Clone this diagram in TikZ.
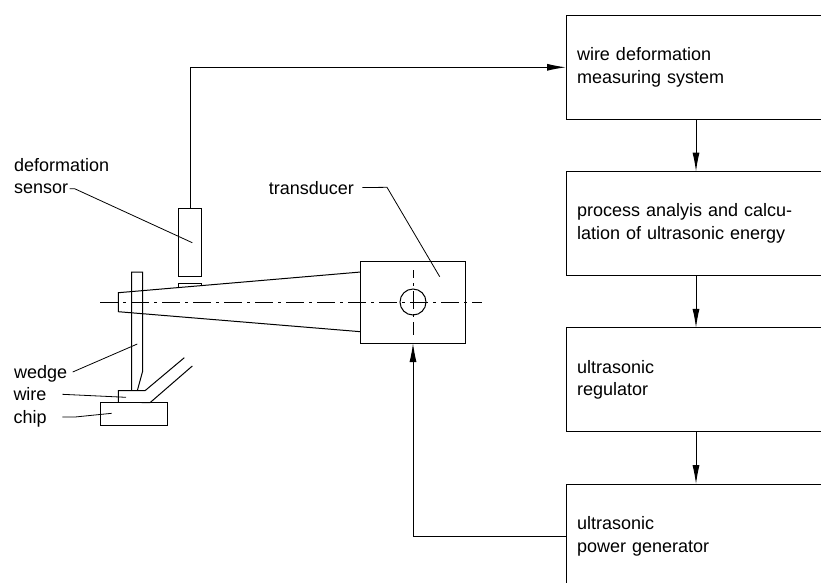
\documentclass[tikz,border=0pt]{standalone}
\usepackage{fontspec}
\setmainfont{Liberation Sans}
\usetikzlibrary{positioning,arrows.meta}
\tikzset{x=1pt, y=-1pt}
\tikzstyle{blk}=[draw, rectangle, minimum width=260pt, minimum height=104pt, text width=238pt, inner xsep=11pt, inner ysep=0pt, outer sep=0pt, align=left, font=\lab]
\tikzstyle{part}=[draw, inner sep=0pt, outer sep=0pt]
\tikzstyle{lbl}=[inner sep=0pt, anchor=base west, font=\lab]
\tikzstyle{arrow}=[-{Latex[length=19pt,width=7pt]}]
\tikzstyle{centre}=[line width=0.8pt, dash pattern=on 18pt off 5pt on 3pt off 5pt]
\tikzstyle{lead}=[line width=0.8pt]
\newcommand{\lab}{\fontsize{18}{22.6}\selectfont}
\begin{document}
\begin{tikzpicture}[line width=1pt]
        \useasboundingbox (0,0) rectangle (821,582);
        \clip (0,0) rectangle (821,582);
        % control chain
        \node (meas) [blk] at (696,67.3) {wire deformation\\measuring system};
        \node (proc) [blk, below=52.3pt of meas] {process analyis and calcu-\\lation of ultrasonic energy};
        \node (regu) [blk, below=52.3pt of proc] {ultrasonic\\regulator};
        \node (gen) [blk, below=52.3pt of regu] {ultrasonic\\power generator};
        \draw[arrow] (meas) -- (proc);
        \draw[arrow] (proc) -- (regu);
        \draw[arrow] (regu) -- (gen);
        % machine
        \node (trans) [part, minimum width=104.5pt, minimum height=82pt] at (413,302) {};
        \node (sens) [part, minimum width=22.5pt, minimum height=68pt] at (190,242) {};
        \node (hole) [part, circle, minimum size=26pt] at (413,302) {};
        \draw[arrow] (sens.north) |- (meas.west);
        \draw[arrow] (gen.west) -| (trans.south);
        \draw (178.5,287.6) |- (201,283) -- (201,285.7);
        \draw (360.7,272) -- (118.3,292.7) -- (118.3,311.7) -- (360.7,331.7);
        \draw[centre] (100,302) -- (482,302);
        \draw[centre, dash phase=10pt] (413,270) -- (413,335);
        % wedge, wire and chip
        \draw (131.5,390.7) -- (131.5,272) -- (142.5,272) -- (142.5,371.7) -- (137.3,390.7);
        \draw (118.3,402.7) -- (118.3,390.7) -- (145,390.7) -- (184.3,357.7);
        \draw (141.7,402.7) -- (150,402.7) -- (192.3,366);
        \node (chip) [part, minimum width=67.4pt, minimum height=22.6pt] at (134,414) {};
        % labels and leaders
        \node (ldef) [lbl] at (13.7,171) {deformation};
        \node (lsen) [lbl] at (13.7,193.5) {sensor};
        \node (ltra) [lbl] at (268.3,194) {transducer};
        \node (lwed) [lbl] at (13.7,378) {wedge};
        \node (lwir) [lbl] at (13,400) {wire};
        \node (lchi) [lbl] at (13,423) {chip};
        \coordinate (psen) at (192.3,242.7);
        \coordinate (ptra) at (439.7,276.7);
        \coordinate (pwed) at (137.3,344);
        \coordinate (pwir) at (126,397.3);
        \coordinate (pchi) at (111.7,413.3);
        \draw[lead] (lsen.east) ++(1,0) -- ++(5,0) -- (psen);
        \draw[lead] (ltra.east) ++(8,0) -- (387,187.3) -- (ptra);
        \draw[lead] (72.7,372) -- (pwed);
        \draw[lead] (62.3,394.3) -- (pwir);
        \draw[lead] (62.3,417) -- (75,417) -- (pchi);
\end{tikzpicture}
\end{document}
